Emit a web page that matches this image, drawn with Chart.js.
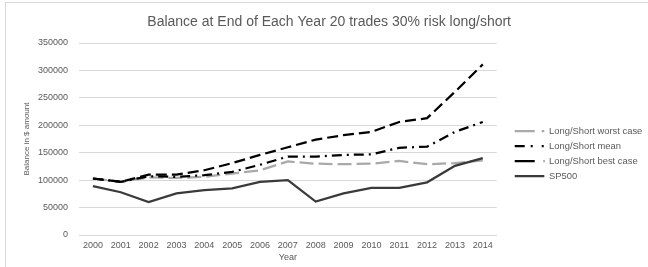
<!DOCTYPE html>
<html>
<head>
<meta charset="utf-8">
<script src="https://cdn.jsdelivr.net/npm/chart.js@4.4.1/dist/chart.umd.min.js"></script>
<style>
  body { margin: 0; background: #fff; }
  #wrap { position: relative; width: 648px; height: 267px; }
  #frame { position: absolute; left: 5px; top: 2px; width: 660px; height: 280px; border: 1px solid #d9d9d9; }
</style>
</head>
<body>
<div id="wrap">
  <div id="frame"></div>
  <canvas id="chart" width="648" height="267"></canvas>
</div>
<script>
var years = ['2000', '2001', '2002', '2003', '2004', '2005', '2006', '2007',
             '2008', '2009', '2010', '2011', '2012', '2013', '2014'];

var worstCase = [103000, 97000, 105000, 104000, 106000, 112000, 118000, 134000,
                 130000, 129000, 130000, 135000, 129000, 131000, 136000];
var meanCase  = [103000, 97000, 107000, 106000, 109000, 115000, 128000, 143000,
                 143000, 146000, 147000, 159000, 161000, 188000, 206000];
var bestCase  = [103000, 97000, 110000, 110000, 118000, 131000, 146000, 160000,
                 174000, 182000, 188000, 206000, 213000, 261000, 311000];
var sp500     = [89000, 78000, 60000, 76000, 82000, 85000, 97000, 100000,
                 61000, 76000, 86000, 86000, 96000, 126000, 140000];

var seriesNames = ['Long/Short worst case', 'Long/Short mean', 'Long/Short best case', 'SP500'];

var grey = '#595959';
var font = "'Liberation Sans', Arial, sans-serif";

// legend keys: leading 0-length dash + gap pushes the key right of the plot
var legendDash = [[0, 12.4, 20, 7, 4, 100], [0, 12.4, 10, 6, 2, 9, 2, 100], [0, 12.4, 20, 9, 2, 100], [0, 12.4, 30, 100]];

var chart = new Chart(document.getElementById('chart'), {
  type: 'line',
  data: {
    labels: years,
    datasets: [
      { label: seriesNames[0], data: worstCase, borderColor: '#a9a9a9', borderWidth: 2.25, borderDash: [14, 5], order: 4 },
      { label: seriesNames[1], data: meanCase, borderColor: '#000000', borderWidth: 2.25, borderDash: [10, 5, 2, 5], order: 3 },
      { label: seriesNames[2], data: bestCase, borderColor: '#000000', borderWidth: 2.25, borderDash: [11, 5], order: 2 },
      { label: seriesNames[3], data: sp500, borderColor: '#3a3a3a', borderWidth: 2.25, order: 1 }
    ]
  },
  options: {
    animation: false,
    responsive: false,
    elements: {
      point: { radius: 0 },
      line: { tension: 0, fill: false }
    },
    layout: { padding: { left: 6, right: -4.3, top: 0, bottom: 4.4 } },
    plugins: {
      title: {
        display: true,
        text: 'Balance at End of Each Year 20 trades 30% risk long/short',
        color: grey,
        font: { family: font, size: 14, weight: 'normal' },
        padding: { top: 14, bottom: 12.2 }
      },
      tooltip: { enabled: false },
      legend: {
        position: 'right',
        // empty title only used to push the keys down
        title: { display: true, text: '', font: { size: 1 }, padding: { top: 43.2, bottom: 0 } },
        labels: {
          usePointStyle: true,
          pointStyleWidth: 42,
          boxHeight: 9,
          padding: 5.6,
          color: grey,
          font: { family: font, size: 9.4 },
          generateLabels: function (c) {
            return c.data.datasets.map(function (ds, i) {
              return {
                text: ds.label,
                fillStyle: ds.borderColor,
                strokeStyle: ds.borderColor,
                lineWidth: ds.borderWidth,
                lineDash: legendDash[i],
                pointStyle: 'line',
                fontColor: grey,
                datasetIndex: i
              };
            });
          }
        }
      }
    },
    scales: {
      x: {
        offset: true,
        grid: { display: false, drawTicks: false },
        border: { color: '#d9d9d9' },
        ticks: { color: grey, font: { family: font, size: 9 }, padding: 5 },
        title: { display: true, text: 'Year', color: grey, font: { family: font, size: 9 }, padding: { top: 1, bottom: 0 } },
        afterFit: function (s) { s.height = 27.6; }
      },
      y: {
        min: 0,
        max: 350000,
        grid: { color: '#d9d9d9', drawTicks: false },
        border: { display: false },
        ticks: {
          stepSize: 50000,
          color: grey,
          font: { family: font, size: 9 },
          padding: 11,
          callback: function (v) { return String(v); }
        },
        title: { display: true, text: 'Balance in $ amount', color: grey, font: { family: font, size: 8 }, padding: { top: 16, bottom: 6 } },
        afterFit: function (s) { s.width = 73; }
      }
    }
  }
});
</script>
</body>
</html>
